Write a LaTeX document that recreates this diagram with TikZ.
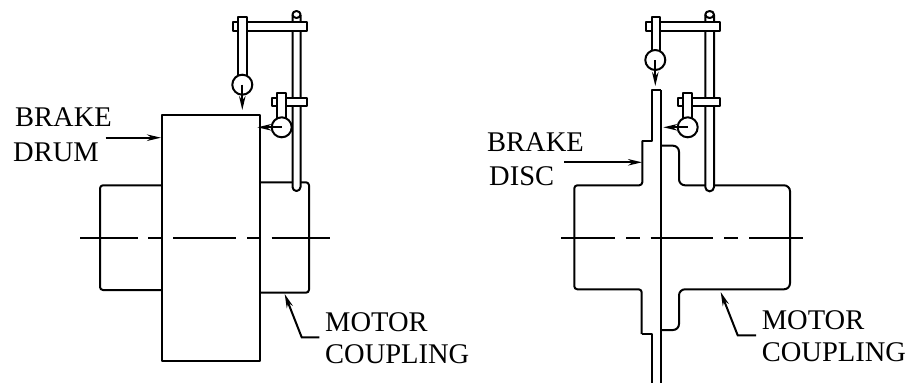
\documentclass[tikz,border=0pt]{standalone}
\usepackage{fontspec}
\setmainfont{Liberation Serif}
\usetikzlibrary{arrows.meta}
\tikzset{
  x=1pt,y=-1pt,
  part/.style={line width=2pt,line join=round},
  ctr/.style={line width=2pt},
  lead/.style={line width=2pt,-{Stealth[length=14pt,width=6.5pt]}},
  lbl/.style={anchor=base west,inner sep=0pt,font=\fontsize{28.5}{30}\selectfont},
  dial/.style={part,draw,fill=white,circle,minimum size=20pt,inner sep=0pt},
  rnd/.style={rounded corners=3pt},
  bigrnd/.style={rounded corners=6pt}
}
% rod: left x, right x
\newcommand{\rodpart}[2]{%
 \draw[part,fill=white] (#1,15) -- (#1,187) arc[start angle=180,end angle=360,radius={(#2-#1)/2*1pt}] -- (#2,15);
 \draw[part,fill=white] ({(#1+#2)/2},14.5) ellipse[x radius={(#2-#1)/2*1pt},y radius=3.5pt];
}
% arm: left x, top y, bottom y, right x
\newcommand{\armpart}[4]{\draw[part,fill=white] (#1,#2) rectangle (#4,#3);}
% stem: left x, right x, top y, bottom y
\newcommand{\stempart}[4]{\draw[part,fill=white] (#1,#4) -- (#1,#3) -- (#2,#3) -- (#2,#4);}
\begin{document}
\begin{tikzpicture}
\useasboundingbox (0,0) rectangle (910,383);
% ---- left: drum
\draw[part,rnd] (161.7,185.3) -- (100,185.3) -- (100,290) -- (161.7,290);
\draw[part,rnd] (260,182.3) -- (309,182.3) -- (309,292.7) -- (260,292.7);
\draw[part,fill=white] (161.7,114.7) rectangle (260,360.7);
\foreach \a/\b in {80/137.7,148.3/161.7,173.3/236,247.3/260,271.7/330}
  \draw[ctr] (\a,238) -- (\b,238);
\rodpart{292.5}{300.5}
\armpart{232.7}{22}{30.7}{307}
\armpart{272.3}{98}{106.3}{307}
\stempart{238.3}{246.7}{16.7}{80}
\stempart{277.3}{285.7}{92.7}{122}
\node[dial] (g1) at (242.3,84.7) {};
\node[dial] (g2) at (281.7,127.3) {};
\coordinate (g1t) at (242.3,110);
\coordinate (g2t) at (257.3,127.3);
\draw[lead] (g1.center) -- (g1t);
\draw[lead] (g2.center) -- (g2t);
% ---- right: disc
\draw[part,rnd] (642.3,140.7) -- (642.3,185.3) -- (574.3,185.3) -- (574.3,289.3) -- (641.7,289.3) -- (641.7,334);
\draw[part] (642.3,140.7) -- (651.7,140.7) -- (651.7,90) -- (660.7,90);
\draw[part] (660.7,90) -- (660.7,383);
\draw[part] (641.7,334) -- (651.7,334) -- (651.7,383);
\draw[part,bigrnd] (660.7,145.7) -- (679,145.7) -- (679,185.3) -- (790,185.3) -- (790,289.3) -- (679,289.3) -- (679,330) -- (660.7,330);
\foreach \a/\b in {561/615,626/640,650.7/713.3,724/738.3,749.3/803}
  \draw[ctr] (\a,238) -- (\b,238);
\rodpart{705.3}{714}
\armpart{646}{22}{30.7}{720}
\armpart{677.7}{98}{106.3}{720}
\stempart{652}{660}{16.7}{56}
\stempart{683.3}{691.7}{92.7}{122}
\node[dial] (g3) at (655.3,60) {};
\node[dial] (g4) at (687.7,127.3) {};
\coordinate (g3t) at (655.3,86);
\coordinate (g4t) at (663.3,127.3);
\draw[lead] (g3.center) -- (g3t);
\draw[lead] (g4.center) -- (g4t);
% ---- labels
\node[lbl] (brakeA) at (15,126.7) {BRAKE};
\node[lbl] (drum) at (13,161.7) {DRUM};
\node[lbl] (motorA) at (325,331) {MOTOR};
\node[lbl] (coupA) at (325,363.3) {COUPLING};
\node[lbl] (brakeB) at (487,151) {BRAKE};
\node[lbl] (disc) at (489,185) {DISC};
\node[lbl] (motorB) at (761.7,329) {MOTOR};
\node[lbl] (coupB) at (761.7,361) {COUPLING};
% ---- leaders
\coordinate (l1s) at (105.7,137.7); \coordinate (l1e) at (161,137.7);
\draw[lead] (l1s) -- (l1e);
\coordinate (l2s) at (564,162.3); \coordinate (l2e) at (642,162.3);
\draw[lead] (l2s) -- (l2e);
\coordinate (l3s) at (319.3,337.3); \coordinate (l3m) at (301.7,337.3); \coordinate (l3e) at (284.7,294);
\draw[lead] (l3s) -- (l3m) -- (l3e);
\coordinate (l4s) at (756,335.3); \coordinate (l4m) at (737.7,335.3); \coordinate (l4e) at (720.7,292);
\draw[lead] (l4s) -- (l4m) -- (l4e);
\end{tikzpicture}
\end{document}
